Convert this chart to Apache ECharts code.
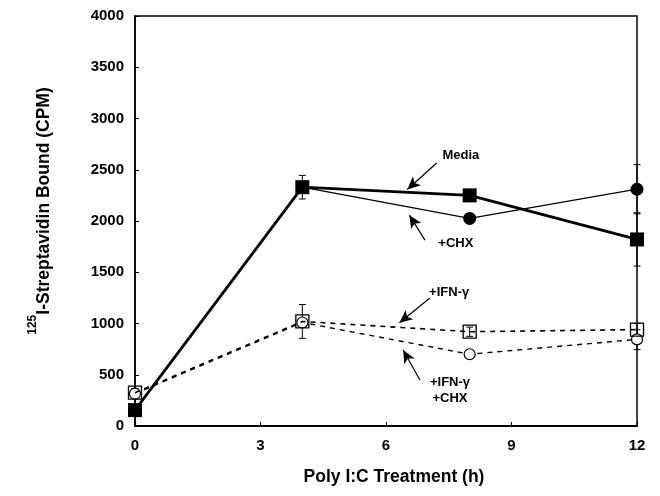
<!DOCTYPE html>
<html>
<head>
<meta charset="utf-8">
<script src="https://cdn.jsdelivr.net/npm/echarts@6/dist/echarts.min.js"></script>
<style>html,body{margin:0;padding:0;background:#fff;}#c{width:660px;height:496px;}</style>
</head>
<body>
<div id="c"></div>
<script>
// ---- data ----
var hours = [0, 4, 8, 12];
var media = [155, 2330, 2250, 1820];
var chx = [155, 2330, 2025, 2310];
var ifn = [325, 1020, 920, 940];
var ifnChx = [315, 1010, 700, 845];
// error bars: [x, low, high]
var mediaErr = [[4, 2215, 2445], [12, 1560, 2080]];
var chxErr = [[12, 2070, 2550]];
var ifnErr = [[0, 285, 365], [4, 855, 1185], [8, 875, 965], [12, 885, 1000]];
var ifnChxErr = [[8, 660, 745], [12, 745, 940]];
var xTicks = [0, 3, 6, 9, 12];
var yTicks = [0, 500, 1000, 1500, 2000, 2500, 3000, 3500, 4000];
// annotations (text, label point, arrow tail, arrow head) in data units
var notes = [
  {text: 'Media', at: [7.79, 2641], from: [7.21, 2566], to: [6.51, 2307]},
  {text: '+CHX', at: [7.67, 1784], from: [6.93, 1813], to: [6.56, 2057]},
  {text: '+IFN-\u03b3', at: [7.51, 1306], from: [7.05, 1248], to: [6.32, 1007]},
  {text: '+IFN-\u03b3\n+CHX', at: [7.53, 351], from: [6.81, 448], to: [6.41, 741]}
];

function pairs(ys) { return hours.map(function (h, i) { return [h, ys[i]]; }); }

var FONT = '"Liberation Sans", Arial, Helvetica, sans-serif';

function errSeries(data) {
  return {
    type: 'custom',
    data: data,
    z: 1,
    silent: true,
    renderItem: function (params, api) {
      var x = api.value(0);
      var lo = api.coord([x, api.value(1)]);
      var hi = api.coord([x, api.value(2)]);
      var w = 3.5;
      var st = {stroke: '#000', lineWidth: 1};
      return {
        type: 'group',
        children: [
          {type: 'line', shape: {x1: lo[0], y1: lo[1], x2: hi[0], y2: hi[1]}, style: st},
          {type: 'line', shape: {x1: lo[0] - w, y1: lo[1], x2: lo[0] + w, y2: lo[1]}, style: st},
          {type: 'line', shape: {x1: hi[0] - w, y1: hi[1], x2: hi[0] + w, y2: hi[1]}, style: st}
        ]
      };
    }
  };
}

var chart = echarts.init(document.getElementById('c'), null, {renderer: 'canvas'});
var option = {
  animation: false,
  backgroundColor: '#fff',
  textStyle: {fontFamily: FONT},
  grid: {left: 135, right: 23, top: 16, bottom: 70, outerBoundsMode: 'none', containLabel: false,
    show: true, borderColor: '#000', borderWidth: 1.5, backgroundColor: 'transparent'},
  xAxis: {
    type: 'value', min: 0, max: 12, interval: 3,
    name: 'Poly I:C Treatment (h)', nameLocation: 'middle', nameGap: 42,
    nameTextStyle: {fontFamily: FONT, fontWeight: 'bold', fontSize: 17.5, color: '#000', padding: [0, 0, 0, 16]},
    axisLine: {show: true, lineStyle: {color: '#000', width: 2}},
    axisTick: {show: true, inside: true, length: 4, lineStyle: {color: '#000', width: 1}},
    axisLabel: {fontFamily: FONT, fontWeight: 'bold', fontSize: 15, color: '#000', margin: 12,
      formatter: function (v) { return xTicks.indexOf(v) >= 0 ? String(v) : ''; }},
    splitLine: {show: false}
  },
  yAxis: {
    type: 'value', min: 0, max: 4000, interval: 500,
    name: '{sup|125}{main|I-Streptavidin Bound (CPM)}', nameLocation: 'middle', nameGap: 82, nameRotate: 90,
    nameTextStyle: {
      fontFamily: FONT, color: '#000', padding: [0, 0, 0, 20],
      rich: {
        sup: {fontFamily: FONT, fontWeight: 'bold', fontSize: 12, color: '#000', verticalAlign: 'top', lineHeight: 26},
        main: {fontFamily: FONT, fontWeight: 'bold', fontSize: 17.5, color: '#000', verticalAlign: 'bottom', lineHeight: 26}
      }
    },
    axisLine: {show: true, lineStyle: {color: '#000', width: 1.5}},
    axisTick: {show: true, inside: true, length: 4, lineStyle: {color: '#000', width: 1}},
    axisLabel: {fontFamily: FONT, fontWeight: 'bold', fontSize: 15, color: '#000', margin: 11,
      formatter: function (v) { return yTicks.indexOf(v) >= 0 ? String(v) : ''; }},
    splitLine: {show: false}
  },
  series: [
    errSeries(ifnChxErr),
    errSeries(ifnErr),
    errSeries(chxErr),
    errSeries(mediaErr),
    {
      name: '+IFN-\u03b3 +CHX', type: 'line', data: pairs(ifnChx), z: 2,
      symbol: 'circle', symbolSize: 11,
      lineStyle: {color: '#000', width: 1.4, type: [5, 5]},
      itemStyle: {color: '#fff', borderColor: '#000', borderWidth: 1.2}
    },
    {
      name: '+IFN-\u03b3', type: 'line', data: pairs(ifn), z: 3,
      symbol: 'rect', symbolSize: 13,
      lineStyle: {color: '#000', width: 1.6, type: [5, 5]},
      itemStyle: {color: 'rgba(255,255,255,0)', borderColor: '#000', borderWidth: 1.3}
    },
    {
      name: '+CHX', type: 'line', data: pairs(chx), z: 4,
      symbol: 'circle', symbolSize: 13,
      lineStyle: {color: '#000', width: 1.3},
      itemStyle: {color: '#000'}
    },
    {
      name: 'Media', type: 'line', data: pairs(media), z: 5,
      symbol: 'rect', symbolSize: 14,
      lineStyle: {color: '#000', width: 2.8},
      itemStyle: {color: '#000'},
      markLine: {
        silent: true,
        symbol: ['none', 'arrow'],
        symbolSize: [9, 13],
        label: {show: false},
        lineStyle: {color: '#000', width: 1.2, type: 'solid', opacity: 1},
        emphasis: {disabled: true},
        data: notes.map(function (n) { return [{coord: n.from}, {coord: n.to}]; })
      }
    },
    {
      name: 'notes', type: 'custom', z: 6, silent: true,
      data: notes.map(function (n) { return [n.at[0], n.at[1]]; }),
      renderItem: function (params, api) {
        var p = api.coord([api.value(0), api.value(1)]);
        return {
          type: 'text',
          x: p[0], y: p[1],
          style: {
            text: notes[params.dataIndex].text,
            fill: '#000',
            font: 'bold 13px ' + FONT,
            align: 'center', verticalAlign: 'middle',
            lineHeight: 16
          }
        };
      }
    }
  ]
};
chart.setOption(option);
</script>
</body>
</html>
